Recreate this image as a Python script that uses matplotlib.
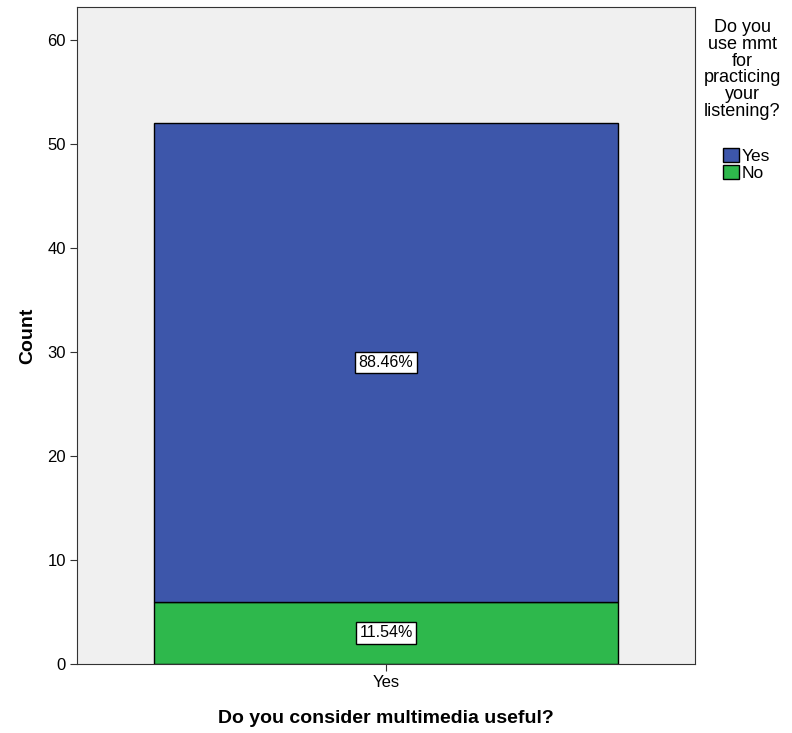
import matplotlib.pyplot as plt
from matplotlib.patches import Patch

categories = ['Yes']
series = ['Yes', 'No']
counts_yes = [46]
counts_no = [6]
colors = {'Yes': '#3d56aa', 'No': '#2eb84c'}

plt.rcParams['font.family'] = ['Liberation Sans', 'DejaVu Sans']

fig = plt.figure(figsize=(7.92, 7.33), dpi=100)
ax = fig.add_axes([0.0972, 0.0941, 0.7803, 0.8964])
ax.set_facecolor('#f0f0f0')

x = list(range(len(categories)))
ax.bar(x, counts_no, width=0.75, color=colors['No'], edgecolor='black', linewidth=1)
ax.bar(x, counts_yes, bottom=counts_no, width=0.75, color=colors['Yes'], edgecolor='black', linewidth=1)

box = dict(boxstyle='square,pad=0.2', fc='white', ec='black', lw=1)
for i in x:
    total = counts_yes[i] + counts_no[i]
    ax.text(i, counts_no[i] / 2, f'{counts_no[i] / total * 100:.2f}%', ha='center', va='center',
            fontsize=11.5, bbox=box)
    ax.text(i, counts_no[i] + counts_yes[i] / 2, f'{counts_yes[i] / total * 100:.2f}%', ha='center',
            va='center', fontsize=11.5, bbox=box)

ax.set_xlim(-0.5, 0.5)
ax.set_ylim(0, 63.2)
ax.set_yticks(range(0, 61, 10))
ax.set_xticks(x)
ax.set_xticklabels(categories)
ax.tick_params(labelsize=12, length=5, color='#333333', pad=3)
for s in ax.spines.values():
    s.set_color('#333333')
ax.set_ylabel('Count', fontsize=14, fontweight='bold', labelpad=8)
ax.set_xlabel('Do you consider multimedia useful?', fontsize=14, fontweight='bold', labelpad=14)

fig.text(0.937, 0.974, 'Do you\nuse mmt\nfor\npracticing\nyour\nlistening?', ha='center', va='top',
         fontsize=13, linespacing=0.98)

handles = [Patch(facecolor=colors[s], edgecolor='black', label=s) for s in series]
fig.legend(handles=handles, loc='upper left', bbox_to_anchor=(0.902, 0.81), frameon=False,
           fontsize=12.5, handlelength=0.9, handleheight=0.9, handletextpad=0.15,
           labelspacing=0.05, borderpad=0)

fig.savefig('out.png', dpi=100)
